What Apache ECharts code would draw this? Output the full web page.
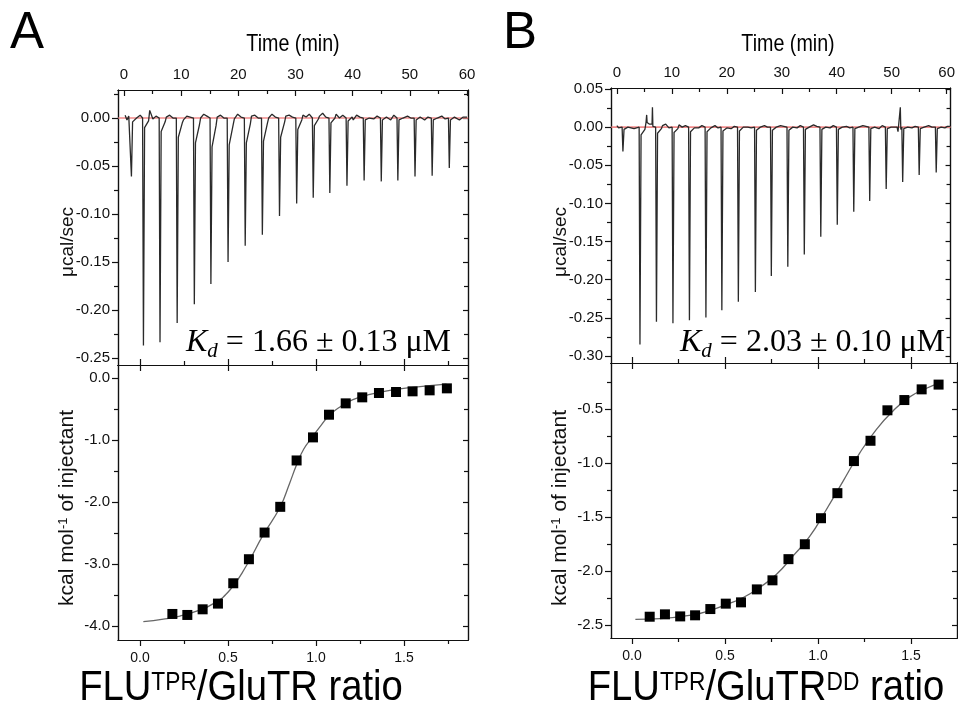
<!DOCTYPE html>
<html><head><meta charset="utf-8">
<script src="https://cdn.jsdelivr.net/npm/echarts@6.0.0/dist/echarts.min.js"></script>
<style>html,body{margin:0;padding:0;background:#fff}#c{width:958px;height:714px}</style>
</head><body><div id="c"></div><script>
// ---------- Panel A : raw thermogram ----------
const injTimeA = [1.2,3.3,6.2,9.2,12.2,15.1,18.1,21.1,24.1,27.1,30.1,33.0,35.9,38.9,41.9,44.9,47.8,50.8,53.8,56.8];
const peakA = [-0.061,-0.237,-0.2335,-0.2135,-0.194,-0.173,-0.150,-0.133,-0.1215,-0.102,-0.089,-0.083,-0.078,-0.0705,-0.065,-0.066,-0.065,-0.061,-0.060,-0.052];
const tailA = [[-0.004,0.000],[-0.010,-0.003],[-0.014,-0.004],[-0.020,-0.005],[-0.026,-0.007],[-0.030,-0.008],[-0.028,-0.007],[-0.026,-0.006],[-0.024,-0.005],[-0.020,-0.004],[-0.012,-0.002],[-0.008,-0.001],[-0.005,0.000],[-0.003,0.001],[-0.002,0.000],[-0.002,0.001],[-0.002,0.000],[-0.002,0.001],[-0.002,0.000],[-0.002,0.001]];
const baseA = [[0.003,-0.002,0.002],[0.001,0.003],[0.008,-0.001,0.002],[0.001,0.003,0.000],[-0.002,0.002,0.001],[0.000,0.004,0.002],[0.001,0.003,0.000],[-0.001,0.004,0.001],[0.002,0.003,0.000],[0.000,0.004,0.001],[0.002,0.003,0.001],[0.003,0.001,0.004],[0.002,0.005,0.001],[0.004,0.000,0.003],[-0.002,0.003,0.001],[0.002,-0.001,0.002],[0.001,-0.002,0.003],[-0.001,0.002,0.000],[0.002,-0.002,0.001],[-0.001,0.002,-0.001],[0.001,-0.002,0.001]];
const extraA = [];
// ---------- Panel A : integrated heats ----------
const ratioA = [0.184,0.269,0.356,0.443,0.530,0.619,0.708,0.797,0.890,0.983,1.074,1.169,1.263,1.358,1.455,1.549,1.646,1.744];
const heatA = [-3.806,-3.822,-3.731,-3.639,-3.311,-2.923,-2.493,-2.078,-1.330,-0.958,-0.592,-0.409,-0.312,-0.242,-0.226,-0.215,-0.199,-0.167];
const fitXA = [0.019,0.133,0.227,0.322,0.417,0.511,0.606,0.700,0.795,0.850,0.890,0.930,0.980,1.030,1.080,1.140,1.210,1.300,1.420,1.550,1.742];
const fitYA = [-3.93,-3.89,-3.84,-3.76,-3.64,-3.42,-3.02,-2.53,-2.09,-1.70,-1.40,-1.15,-0.95,-0.76,-0.59,-0.46,-0.35,-0.27,-0.20,-0.15,-0.10];
// ---------- Panel B : raw thermogram ----------
const injTimeB = [1.0,4.1,7.1,10.1,13.1,16.1,19.0,22.0,25.1,28.0,31.0,34.0,37.0,40.0,43.0,45.9,48.9,51.9,54.9,58.0];
const peakB = [-0.032,-0.285,-0.255,-0.257,-0.253,-0.2496,-0.240,-0.229,-0.216,-0.195,-0.183,-0.167,-0.1436,-0.128,-0.111,-0.0968,-0.081,-0.072,-0.0626,-0.0595];
const tailB = [[-0.003,0.000],[-0.010,-0.003],[-0.008,-0.002],[-0.007,-0.002],[-0.006,-0.001],[-0.006,-0.001],[-0.005,-0.001],[-0.005,0.000],[-0.004,0.000],[-0.004,0.000],[-0.004,0.000],[-0.003,0.000],[-0.003,0.000],[-0.003,0.000],[-0.002,0.000],[-0.002,0.000],[-0.002,0.000],[-0.002,0.000],[-0.002,0.000],[-0.002,0.000]];
const baseB = [[0.002,-0.001,0.001],[0.001,-0.002],[0.006,0.004,0.002],[0.002,0.004,-0.001],[0.003,0.000,0.002],[0.001,-0.001,0.002],[0.000,0.002,-0.001],[0.001,-0.002,0.001],[0.002,0.000,-0.001],[0.001,0.002,0.000],[-0.001,0.002,0.001],[0.002,-0.001,0.002],[0.000,0.003,0.001],[0.001,-0.001,0.002],[0.002,0.001,-0.001],[0.000,0.002,0.001],[0.001,-0.002,0.002],[0.001,0.000],[0.002,-0.001,0.001],[-0.001,0.002,0.000],[0.001,-0.001,0.001]];
const extraB = [[5.35,0.004],[5.42,0.016],[5.5,0.006],[6.4,0.004],[6.47,0.026],[6.55,0.001],[51.15,-0.006],[51.45,-0.008],[51.57,0.026],[51.66,-0.003]];
// ---------- Panel B : integrated heats ----------
const ratioB = [0.095,0.177,0.259,0.339,0.421,0.504,0.586,0.671,0.755,0.841,0.929,1.016,1.104,1.193,1.282,1.373,1.464,1.557,1.648];
const heatB = [-2.423,-2.401,-2.420,-2.410,-2.352,-2.302,-2.290,-2.170,-2.086,-1.890,-1.752,-1.511,-1.279,-0.982,-0.794,-0.512,-0.417,-0.318,-0.274];
const fitXB = [0.018,0.152,0.330,0.420,0.509,0.598,0.688,0.777,0.866,0.955,1.045,1.134,1.223,1.313,1.402,1.491,1.580,1.652];
const fitYB = [-2.447,-2.44,-2.405,-2.365,-2.31,-2.245,-2.15,-2.03,-1.86,-1.68,-1.43,-1.17,-0.91,-0.69,-0.52,-0.39,-0.31,-0.26];
// ---------- tick values ----------
const timeMajor = [0,10,20,30,40,50,60];
const timeMinor = [5,15,25,35,45,55];
const rawMajorA = [0,-0.05,-0.10,-0.15,-0.20,-0.25];
const rawMinorA = [0.025,-0.025,-0.075,-0.125,-0.175,-0.225];
const rawMajorB = [0.05,0,-0.05,-0.10,-0.15,-0.20,-0.25,-0.30];
const rawMinorB = [0.025,-0.025,-0.075,-0.125,-0.175,-0.225,-0.275];
const ratioMajor = [0,0.5,1.0,1.5];
const ratioMinor = [0.25,0.75,1.25,1.75];
const heatMajorA = [0,-1,-2,-3,-4];
const heatMinorA = [-0.5,-1.5,-2.5,-3.5];
const heatMajorB = [-0.5,-1.0,-1.5,-2.0,-2.5];
const heatMinorB = [-0.25,-0.75,-1.25,-1.75,-2.25];

const SANS = "'Liberation Sans', Arial, sans-serif";
const SERIF = "'Liberation Serif', 'Times New Roman', serif";
const AX = '#111';

function buildTrace(times, peaks, tails, base, extra, t0, tEnd) {
  const pts = [];
  let prev = t0;
  for (let i = 0; i <= times.length; i++) {
    const next = i < times.length ? times[i] - 0.05 : tEnd;
    const w = base[i];
    const span = next - prev;
    w.forEach((v, k) => pts.push([prev + span * k / w.length, v]));
    if (i === times.length) { pts.push([tEnd, w[w.length - 1]]); break; }
    const t = times[i];
    pts.push([t - 0.05, 0.0], [t + 0.1, peaks[i]], [t + 0.3, tails[i][0]], [t + 1.0, tails[i][1]]);
    prev = t + 1.2;
  }
  extra.forEach(p => pts.push(p));
  pts.sort((a, b) => a[0] - b[0]);
  return pts;
}
const zip = (a, b) => a.map((v, i) => [v, b[i]]);

const xAxis = [], yAxis = [];
function mk(list, g, pos, min, max, vals, len, inside, label) {
  list.push({
    type: 'value', gridIndex: g, position: pos, min: min, max: max,
    splitLine: { show: false },
    axisLine: { show: true, onZero: false, lineStyle: { color: AX, width: 1.2 } },
    axisTick: vals ? { show: true, inside: inside, length: len, customValues: vals, lineStyle: { color: AX, width: 1.2 } } : { show: false },
    axisLabel: label ? Object.assign({ show: true, customValues: vals, color: '#111' }, label) : { show: false },
    axisPointer: { show: false }
  });
  return list.length - 1;
}
const f0 = v => String(Math.round(v));
const f1 = v => v.toFixed(1);
const f2 = v => v.toFixed(2);
const topXLabel = { formatter: f0, fontFamily: SANS, fontSize: 15, margin: 8 };
const botXLabel = { formatter: f1, fontFamily: SANS, fontSize: 14, margin: 11 };
const yLab = fmt => ({ formatter: fmt, fontFamily: SANS, fontSize: 15, margin: 8 });

const grids = [
  { left: 118, top: 90, width: 350, height: 275 },
  { left: 118, top: 365, width: 350, height: 275 },
  { left: 611, top: 88, width: 346, height: 275 },
  { left: 611, top: 363, width: 346, height: 275 }
];
function rawAxes(g, xr, yr, yMaj, yMin) {
  const xi = mk(xAxis, g, 'top', xr[0], xr[1], timeMajor, 6, true, topXLabel);
  mk(xAxis, g, 'top', xr[0], xr[1], timeMinor, 4, true, null);
  mk(xAxis, g, 'bottom', xr[0], xr[1], null, 0, true, null);
  const yi = mk(yAxis, g, 'left', yr[0], yr[1], yMaj, 6, false, yLab(f2));
  mk(yAxis, g, 'left', yr[0], yr[1], yMin, 4, false, null);
  mk(yAxis, g, 'right', yr[0], yr[1], yMaj, 5, true, null);
  mk(yAxis, g, 'right', yr[0], yr[1], yMin, 4, true, null);
  return [xi, yi];
}
function heatAxes(g, xr, yr, yMaj, yMin, yfmt) {
  const xi = mk(xAxis, g, 'bottom', xr[0], xr[1], ratioMajor, 6, false, botXLabel);
  mk(xAxis, g, 'bottom', xr[0], xr[1], ratioMinor, 4, false, null);
  mk(xAxis, g, 'top', xr[0], xr[1], ratioMajor, 6, true, null);
  mk(xAxis, g, 'top', xr[0], xr[1], ratioMajor, 6, false, null);
  mk(xAxis, g, 'top', xr[0], xr[1], ratioMinor, 4, false, null);
  const yi = mk(yAxis, g, 'left', yr[0], yr[1], yMaj, 6, false, yLab(yfmt));
  mk(yAxis, g, 'left', yr[0], yr[1], yMin, 4, false, null);
  mk(yAxis, g, 'right', yr[0], yr[1], yMaj, 5, true, null);
  mk(yAxis, g, 'right', yr[0], yr[1], yMin, 4, true, null);
  return [xi, yi];
}
const aA = rawAxes(0, [-1.05, 60.17], [-0.2573, 0.0292], rawMajorA, rawMinorA);
const aB = heatAxes(1, [-0.125, 1.864], [-4.226, 0.2097], heatMajorA, heatMinorA, f1);
const bA = rawAxes(2, [-1.07, 60.71], [-0.3092, 0.0513], rawMajorB, rawMinorB);
const bB = heatAxes(3, [-0.113, 1.747], [-2.62, -0.074], heatMajorB, heatMinorB, f1);

const traceA = buildTrace(injTimeA, peakA, tailA, baseA, extraA, 0.2, 60.0);
const traceB = buildTrace(injTimeB, peakB, tailB, baseB, extraB, 0.0, 60.6);

function rawSeries(ax, trace, tEnd) {
  return [
    { type: 'line', xAxisIndex: ax[0], yAxisIndex: ax[1], data: [[-1, 0], [tEnd, 0]], showSymbol: false, z: 2,
      lineStyle: { color: '#f08a8a', width: 1.6 }, silent: true },
    { type: 'line', xAxisIndex: ax[0], yAxisIndex: ax[1], data: trace, showSymbol: false, z: 3,
      lineStyle: { color: '#2a2a2a', width: 1.3 }, silent: true }
  ];
}
function heatSeries(ax, fx, fy, rx, hy) {
  return [
    { type: 'line', xAxisIndex: ax[0], yAxisIndex: ax[1], data: zip(fx, fy), smooth: true, showSymbol: false, z: 2,
      lineStyle: { color: '#666', width: 1.3 }, silent: true },
    { type: 'scatter', xAxisIndex: ax[0], yAxisIndex: ax[1], data: zip(rx, hy), symbol: 'rect', symbolSize: 10, z: 3,
      itemStyle: { color: '#000', opacity: 1 }, silent: true }
  ];
}

function kd(x, val) {
  return { type: 'text', x: x, y: 343, style: {
    text: '{k|K}{d|d}{n| = ' + val + '}', textAlign: 'left', textVerticalAlign: 'middle', fill: '#000',
    rich: {
      k: { fontFamily: SERIF, fontStyle: 'italic', fontSize: 32, lineHeight: 33, verticalAlign: 'top' },
      d: { fontFamily: SERIF, fontStyle: 'italic', fontSize: 21, lineHeight: 21, padding: [14, 0, 0, 0], verticalAlign: 'top' },
      n: { fontFamily: SERIF, fontSize: 32, lineHeight: 33, verticalAlign: 'top' }
    } } };
}
function xtitle(x, tail) {
  return { type: 'text', x: x, y: 689, scaleX: 0.91, style: {
    text: '{m|FLU}{s|TPR}{m|/GluTR}' + tail, textAlign: 'center', textVerticalAlign: 'middle', fill: '#000',
    rich: {
      m: { fontFamily: SANS, fontSize: 42, lineHeight: 44, verticalAlign: 'top' },
      s: { fontFamily: SANS, fontSize: 25, lineHeight: 26, padding: [4, 0, 0, 0], verticalAlign: 'top' }
    } } };
}
function ytitle(x, y, txt, size) {
  return { type: 'text', x: x, y: y, rotation: Math.PI / 2, style: {
    text: txt, textAlign: 'center', textVerticalAlign: 'middle', fill: '#111', fontFamily: SANS, fontSize: size } };
}
function kcal(x) {
  return { type: 'text', x: x, y: 508, rotation: Math.PI / 2, style: {
    text: '{m|kcal mol}{s|-1}{m| of injectant}', textAlign: 'center', textVerticalAlign: 'middle', fill: '#111',
    rich: {
      m: { fontFamily: SANS, fontSize: 21, lineHeight: 22, verticalAlign: 'top' },
      s: { fontFamily: SANS, fontSize: 13, lineHeight: 13, verticalAlign: 'top' }
    } } };
}
function plain(x, y, txt, size, sx) {
  return { type: 'text', x: x, y: y, scaleX: sx || 1, style: { text: txt, textAlign: 'center', textVerticalAlign: 'middle', fill: '#000', fontFamily: SANS, fontSize: size } };
}

const chart = echarts.init(document.getElementById('c'), null, { renderer: 'canvas' });
chart.setOption({
  animation: false,
  backgroundColor: '#fff',
  grid: grids,
  xAxis: xAxis,
  yAxis: yAxis,
  series: [].concat(
    rawSeries(aA, traceA, 60.2),
    heatSeries(aB, fitXA, fitYA, ratioA, heatA),
    rawSeries(bA, traceB, 60.7),
    heatSeries(bB, fitXB, fitYB, ratioB, heatB)
  ),
  graphic: [
    plain(27, 34, 'A', 51),
    plain(520, 34, 'B', 51),
    plain(293, 44, 'Time (min)', 24, 0.82),
    plain(788, 44, 'Time (min)', 24, 0.82),
    kd(186, '1.66 ± 0.13 μM'),
    kd(680, '2.03 ± 0.10 μM'),
    xtitle(241, '{m| ratio}'),
    xtitle(766, '{s|DD}{m| ratio}'),
    ytitle(68, 242, 'μcal/sec', 19),
    ytitle(561, 242, 'μcal/sec', 19),
    kcal(68),
    kcal(561)
  ]
});
</script></body></html>
